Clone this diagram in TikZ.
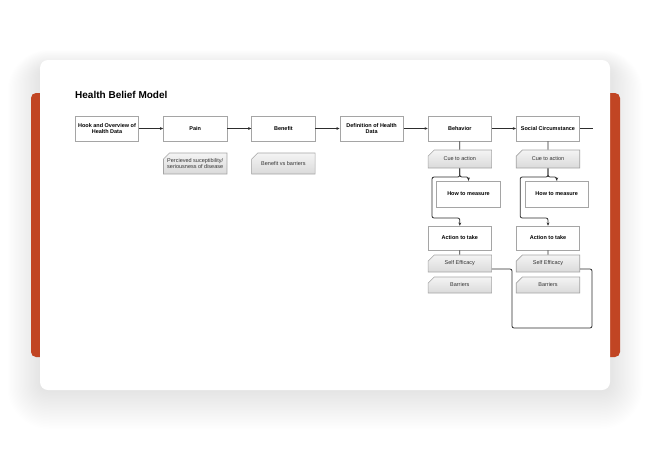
\documentclass[tikz,border=0pt]{standalone}
\usepackage{fontspec}
\setmainfont{Liberation Sans}
\usetikzlibrary{shapes.misc,arrows.meta,calc,shadows}
\definecolor{brand}{RGB}{193,69,35}
\definecolor{linec}{RGB}{45,45,45}
\definecolor{boxline}{RGB}{165,165,165}
\definecolor{notetop}{RGB}{244,244,244}
\definecolor{notebot}{RGB}{218,218,218}
\begin{document}
\begin{tikzpicture}[x=1pt,y=-1pt,
  mainbox/.style={draw=boxline, fill=white, line width=0.6pt, minimum width=63.5pt,
    minimum height=25pt, inner sep=1pt, align=center,
    font=\fontsize{5.5}{6.6}\selectfont\bfseries,
    drop shadow={shadow xshift=0.3pt, shadow yshift=-0.8pt, opacity=0.3, fill=black}},
  notebox/.style={chamfered rectangle, chamfered rectangle corners=north west,
    chamfered rectangle xsep=2.6pt, draw=boxline, line width=0.6pt,
    top color=notetop, bottom color=notebot, minimum width=63.5pt,
    minimum height=18pt, inner sep=1pt, align=center,
    font=\fontsize{5.5}{6.6}\selectfont, text=black!80},
  conn/.style={draw=linec, line width=0.8pt, rounded corners=2pt},
  arr/.style={conn, -{Stealth[length=3.2pt,width=2.8pt]}},
]
\useasboundingbox (0,0) rectangle (650,450);
\fill[white] (0,0) rectangle (650,450);
% soft shadow of the card
\foreach \i [evaluate=\i as \r using 8+1.3*\i] in {1,...,26}
  \fill[black, opacity=0.0045, rounded corners=\r pt]
    (40-1.25*\i, 60-0.7*\i+8) rectangle (610+1.25*\i, 390+1.5*\i);
% orange band
\fill[brand, rounded corners=5pt] (31,93) rectangle (620,357);
% card
\fill[white, rounded corners=8pt] (40,60) rectangle (610,390);

\node[anchor=west, inner sep=0pt, font=\fontsize{10}{12}\selectfont\bfseries] (title) at (75,95) {Health Belief Model};

% main row
\node[mainbox] (hook) at (107,128.5) {Hook and Overview of\\Health Data};
\node[mainbox] (pain) at (195.2,128.5) {Pain};
\node[mainbox] (benefit) at (283.4,128.5) {Benefit};
\node[mainbox] (defn) at (371.6,128.5) {Definition of Health\\Data};
\node[mainbox] (behav) at (459.8,128.5) {Behavior};
\node[mainbox] (social) at (548,128.5) {Social Circumstance};

% notes
\node[notebox, minimum height=21pt] (painnote) at (195.2,163.5) {Percieved suceptibility/\\seriousness of disease};
\node[notebox, minimum height=21pt] (bennote) at (283.4,163.5) {Benefit vs barriers};

% behavior column
\node[notebox] (cue1) at (459.8,159) {Cue to action};
\node[mainbox, minimum height=26pt] (htm1) at (468.5,194) {How to measure};
\node[mainbox, minimum height=24pt] (act1) at (459.8,238) {Action to take};
\node[notebox, minimum height=17pt] (se1) at (459.8,263.5) {Self Efficacy};
\node[notebox, minimum height=16pt] (bar1) at (459.8,285) {Barriers};

% social column
\node[notebox] (cue2) at (548,159) {Cue to action};
\node[mainbox, minimum height=26pt] (htm2) at (556.7,194) {How to measure};
\node[mainbox, minimum height=24pt] (act2) at (548,238) {Action to take};
\node[notebox, minimum height=17pt] (se2) at (548,263.5) {Self Efficacy};
\node[notebox, minimum height=16pt] (bar2) at (548,285) {Barriers};

% main connectors
\draw[arr] (hook) -- (pain);
\draw[arr] (pain) -- (benefit);
\draw[arr] (benefit) -- (defn);
\draw[arr] (defn) -- (behav);
\draw[arr] (behav) -- (social);
\coordinate (tail) at (593,128.5);
\draw[conn] (social) -- (tail);

% column connectors
\draw[conn] (behav) -- (cue1);
\draw[conn] (social) -- (cue2);
\draw[conn] (act1) -- (se1);
\draw[conn] (act2) -- (se2);

\coordinate (j1) at (459.8,177);
\coordinate (la1) at (432,177);
\coordinate (lb1) at (432,218);
\coordinate (m1) at (459.8,218);
\draw[arr] (cue1.south) -- (j1) -| (htm1.north);
\draw[arr] (cue1.south) -- (j1) -- (la1) -- (lb1) -- (m1) -- (act1.north);

\coordinate (j2) at (548,177);
\coordinate (la2) at (520.2,177);
\coordinate (lb2) at (520.2,218);
\coordinate (m2) at (548,218);
\draw[arr] (cue2.south) -- (j2) -| (htm2.north);
\draw[arr] (cue2.south) -- (j2) -- (la2) -- (lb2) -- (m2) -- (act2.north);

% self efficacy link
\coordinate (s1) at (512,269);
\coordinate (s2) at (512,328);
\coordinate (s3) at (592,328);
\coordinate (s4) at (592,269);
\draw[conn] (se1.east |- s1) -- (s1) -- (s2) -- (s3) -- (s4) -- (se2.east |- s4);
\end{tikzpicture}
\end{document}
